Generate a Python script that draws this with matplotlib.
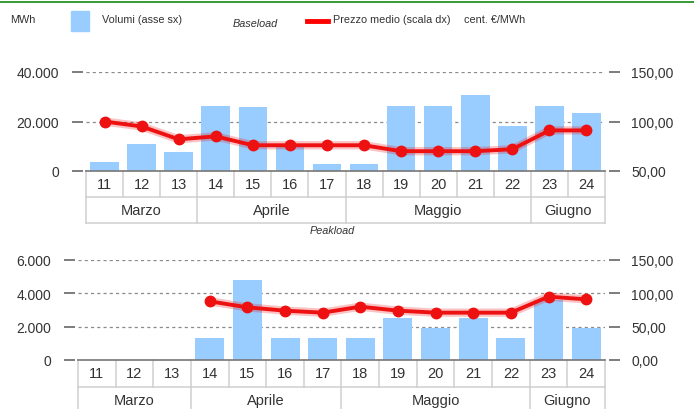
import matplotlib.pyplot as plt
import numpy as np
from matplotlib.patches import Rectangle
from matplotlib.lines import Line2D
from matplotlib.transforms import blended_transform_factory

plt.rcParams['font.family'] = ['Liberation Sans', 'DejaVu Sans']

# settimane e mesi
weeks = ['11', '12', '13', '14', '15', '16', '17', '18', '19', '20', '21', '22', '23', '24']
months = ['Marzo', 'Aprile', 'Maggio', 'Giugno']
month_spans = [3, 4, 5, 2]

# Baseload
base_vol = [3500, 11000, 7500, 26400, 25700, 11000, 2800, 2800, 26400, 26400, 30700, 18300, 26400, 23300]
base_price = [100, 95, 82, 85, 76, 76, 76, 76, 70, 70, 70, 72, 91, 91]

# Peakload
peak_vol = [0, 0, 0, 1300, 4800, 1300, 1300, 1300, 2500, 1900, 2500, 1300, 3600, 1900]
peak_price = [np.nan, np.nan, np.nan, 88, 79, 74, 71, 80, 74, 71, 71, 71, 95, 91]

base_left_ticks = [0, 20000, 40000]
base_left_labels = ['0', '20.000', '40.000']
base_right_ticks = [50, 100, 150]
base_right_labels = ['50,00', '100,00', '150,00']

peak_left_ticks = [0, 2000, 4000, 6000]
peak_left_labels = ['0', '2.000', '4.000', '6.000']
peak_right_ticks = [0, 50, 100, 150]
peak_right_labels = ['0,00', '50,00', '100,00', '150,00']

W, H = 694, 410
BAR = '#99ccff'
RED = '#ee1111'
TXT = '#333333'
GRID = '#8a8a8a'
CELL = '#cfcfcf'

fig = plt.figure(figsize=(W / 100, H / 100), dpi=100)


def px_axes(x0, y0, x1, y1):
    return fig.add_axes([x0 / W, 1 - y1 / H, (x1 - x0) / W, (y1 - y0) / H])


def draw_panel(ax, vols, prices, lticks, llabels, rticks, rlabels, ax_h, row_h, rows_drawn):
    x = np.arange(len(weeks))
    ax.bar(x, vols, width=0.77, color=BAR, zorder=2)
    ax.set_xlim(-0.5, len(weeks) - 0.5)
    ax.set_ylim(lticks[0], lticks[-1])
    ax.set_yticks(lticks)
    ax.set_yticklabels(llabels)
    ax.set_xticks([])
    for t in lticks[1:]:
        ax.axhline(t, color=GRID, lw=0.9, ls=(0, (2.5, 2.5)), zorder=1)
    ax.axhline(lticks[0], color='#777777', lw=1.2, zorder=3, clip_on=False)
    for s in ax.spines.values():
        s.set_visible(False)
    ax.spines['left'].set_position(('outward', 2.5))
    ax.tick_params(axis='y', length=8, width=1.2, color='#666666', labelsize=10,
                   labelcolor=TXT, pad=9)

    ax2 = ax.twinx()
    ax2.set_ylim(rticks[0], rticks[-1])
    ax2.set_yticks(rticks)
    ax2.set_yticklabels(rlabels)
    for s in ax2.spines.values():
        s.set_visible(False)
    ax2.spines['right'].set_position(('outward', 3))
    ax2.tick_params(axis='y', length=8, width=1.2, color='#666666', labelsize=10,
                    labelcolor=TXT, pad=8)
    ax2.plot(x, prices, color=RED, lw=6, alpha=0.25, zorder=4, solid_capstyle='round')
    ax2.plot(x, prices, color=RED, lw=2.8, marker='o', ms=7.5, mfc=RED, mec=RED, zorder=5)

    # tabella categorie sotto l'asse
    tr = blended_transform_factory(ax.transData, ax.transAxes)
    r = row_h / ax_h
    kw = dict(transform=tr, color=CELL, lw=1.1, clip_on=False)
    left, right = -0.5, len(weeks) - 0.5
    bottom = -r * rows_drawn
    for i in range(len(weeks) + 1):
        ax.add_line(Line2D([left + i, left + i], [0, -r], **kw))
    ax.add_line(Line2D([left, right], [-r, -r], **kw))
    ax.add_line(Line2D([left, right], [-2 * r, -2 * r], **kw))
    ax.add_line(Line2D([left, left], [-r, bottom], **kw))
    pos = left
    for m, n in zip(months, month_spans):
        ax.add_line(Line2D([pos + n, pos + n], [-r, bottom], **kw))
        ax.text(pos + n / 2, -1.5 * r, m, transform=tr, ha='center', va='center',
                fontsize=10.5, color=TXT, clip_on=False)
        pos += n
    for i, w in enumerate(weeks):
        ax.text(i, -0.5 * r, w, transform=tr, ha='center', va='center',
                fontsize=10.5, color=TXT)


ax_top = px_axes(86, 73, 605, 172)
draw_panel(ax_top, base_vol, base_price, base_left_ticks, base_left_labels,
           base_right_ticks, base_right_labels, 99, 26, 2)

ax_bot = px_axes(78, 261, 605, 361)
draw_panel(ax_bot, peak_vol, peak_price, peak_left_ticks, peak_left_labels,
           peak_right_ticks, peak_right_labels, 100, 27, 2.3)

# intestazione
fig.add_artist(Line2D([0, 1], [1 - 3 / H, 1 - 3 / H], color='#138a13', lw=1.2))
fig.text(10 / W, 1 - 20 / H, 'MWh', fontsize=7.8, color=TXT, va='center')
fig.add_artist(Rectangle((71 / W, 1 - 32 / H), 18 / W, 20 / H, color=BAR))
fig.text(102 / W, 1 - 20 / H, 'Volumi (asse sx)', fontsize=7.8, color=TXT, va='center')
fig.text(233 / W, 1 - 24 / H, 'Baseload', fontsize=7.8, style='italic', color=TXT, va='center')
fig.add_artist(Line2D([307 / W, 328 / W], [1 - 22 / H, 1 - 22 / H], color='#ff0000', lw=3.5))
fig.text(333 / W, 1 - 20 / H, 'Prezzo medio (scala dx)', fontsize=7.8, color=TXT, va='center')
fig.text(464 / W, 1 - 20 / H, 'cent. €/MWh', fontsize=7.8, color=TXT, va='center')
fig.text(310 / W, 1 - 231 / H, 'Peakload', fontsize=7.8, style='italic', color=TXT, va='center')

fig.savefig('out.png', dpi=100)
